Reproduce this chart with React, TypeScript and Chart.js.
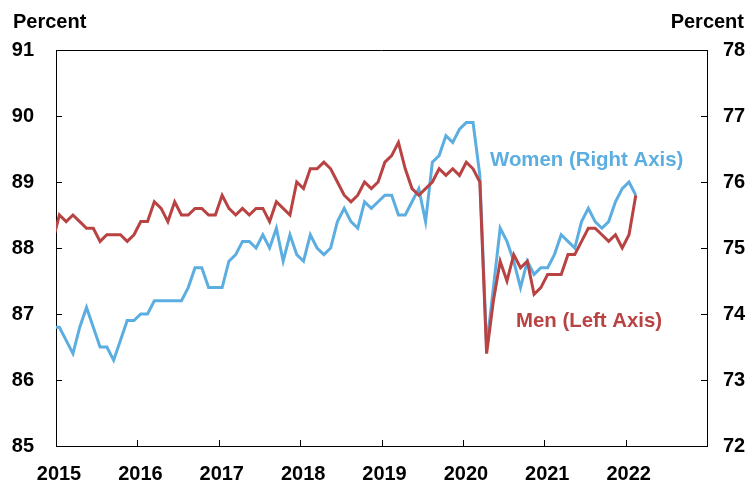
import React, { useEffect, useRef } from "react";
import { Chart, registerables } from "chart.js";

Chart.register(...registerables);

// Monthly observations, first value = December 2014, last = February 2022
const FIRST_MONTH_OFFSET = -1; // Dec 2014 relative to Jan 2015

const menLeftAxis = [
  88.1,
  // 2015
  88.5, 88.4, 88.5, 88.4, 88.3, 88.3, 88.1, 88.2, 88.2, 88.2, 88.1, 88.2,
  // 2016
  88.4, 88.4, 88.7, 88.6, 88.4, 88.7, 88.5, 88.5, 88.6, 88.6, 88.5, 88.5,
  // 2017
  88.8, 88.6, 88.5, 88.6, 88.5, 88.6, 88.6, 88.4, 88.7, 88.6, 88.5, 89.0,
  // 2018
  88.9, 89.2, 89.2, 89.3, 89.2, 89.0, 88.8, 88.7, 88.8, 89.0, 88.9, 89.0,
  // 2019
  89.3, 89.4, 89.6, 89.2, 88.9, 88.8, 88.9, 89.0, 89.2, 89.1, 89.2, 89.1,
  // 2020
  89.3, 89.2, 89.0, 86.4, 87.2, 87.8, 87.5, 87.9, 87.7, 87.8, 87.3, 87.4,
  // 2021
  87.6, 87.6, 87.6, 87.9, 87.9, 88.1, 88.3, 88.3, 88.2, 88.1, 88.2, 88.0,
  // 2022
  88.2, 88.8,
];

const womenRightAxis = [
  73.8,
  // 2015
  73.8, 73.6, 73.4, 73.8, 74.1, 73.8, 73.5, 73.5, 73.3, 73.6, 73.9, 73.9,
  // 2016
  74.0, 74.0, 74.2, 74.2, 74.2, 74.2, 74.2, 74.4, 74.7, 74.7, 74.4, 74.4,
  // 2017
  74.4, 74.8, 74.9, 75.1, 75.1, 75.0, 75.2, 75.0, 75.3, 74.8, 75.2, 74.9,
  // 2018
  74.8, 75.2, 75.0, 74.9, 75.0, 75.4, 75.6, 75.4, 75.3, 75.7, 75.6, 75.7,
  // 2019
  75.8, 75.8, 75.5, 75.5, 75.7, 75.9, 75.4, 76.3, 76.4, 76.7, 76.6, 76.8,
  // 2020
  76.9, 76.9, 76.1, 73.5, 74.4, 75.3, 75.1, 74.8, 74.4, 74.8, 74.6, 74.7,
  // 2021
  74.7, 74.9, 75.2, 75.1, 75.0, 75.4, 75.6, 75.4, 75.3, 75.4, 75.7, 75.9,
  // 2022
  76.0, 75.8,
];

const BASE_YEAR = 2015;
const yearTicks = [2015, 2016, 2017, 2018, 2019, 2020, 2021, 2022];
const X_END_YEAR = 2023;
const leftAxisTicks = [85, 86, 87, 88, 89, 90, 91];
const rightAxisTicks = [72, 73, 74, 75, 76, 77, 78];

const axisTitle = "Percent";
const menLabel = "Men (Left Axis)";
const womenLabel = "Women (Right Axis)";

const RED = "rgb(185,66,66)";
const BLUE = "rgb(92,174,225)";
const FONT_FAMILY = '"Liberation Sans", Arial, Helvetica, sans-serif';

const toPoints = (arr: number[]) =>
  arr.map((v, i) => ({ x: i + FIRST_MONTH_OFFSET + 0.5, y: v }));

const decorPlugin = {
  id: "decor",
  afterDatasetsDraw(chart: any) {
    const { ctx, chartArea, scales } = chart;
    const { left, right, top, bottom } = chartArea;
    ctx.save();
    ctx.strokeStyle = "#000";
    ctx.lineWidth = 1;
    ctx.beginPath();
    ctx.moveTo(left, Math.round(top) + 0.5);
    ctx.lineTo(right, Math.round(top) + 0.5);
    const TL = 6;
    leftAxisTicks.forEach((v) => {
      const y = Math.round(scales.y.getPixelForValue(v)) + 0.5;
      ctx.moveTo(left, y);
      ctx.lineTo(left + TL, y);
    });
    rightAxisTicks.forEach((v) => {
      const y = Math.round(scales.y1.getPixelForValue(v)) + 0.5;
      ctx.moveTo(right, y);
      ctx.lineTo(right - TL, y);
    });
    yearTicks.forEach((yr) => {
      const x = Math.round(scales.x.getPixelForValue((yr - BASE_YEAR) * 12)) + 0.5;
      ctx.moveTo(x, bottom);
      ctx.lineTo(x, bottom - TL);
    });
    ctx.stroke();

    ctx.font = `bold 20px ${FONT_FAMILY}`;
    ctx.textBaseline = "alphabetic";
    ctx.fillStyle = "#000";
    ctx.textAlign = "left";
    ctx.fillText(axisTitle, 13, 28);
    ctx.textAlign = "right";
    ctx.fillText(axisTitle, 744, 28);

    ctx.font = `bold 20.4px ${FONT_FAMILY}`;
    ctx.textAlign = "left";
    ctx.fillStyle = BLUE;
    ctx.fillText(womenLabel, 490, 166);
    ctx.fillStyle = RED;
    ctx.fillText(menLabel, 516, 327);
    ctx.restore();
  },
};

export default function App() {
  const canvasRef = useRef<HTMLCanvasElement | null>(null);

  useEffect(() => {
    const canvas = canvasRef.current;
    if (!canvas) return;
    const tickFont = { family: FONT_FAMILY, size: 20, weight: "bold" as const };
    const chart = new Chart(canvas, {
      type: "line",
      data: {
        datasets: [
          {
            label: "Women",
            data: toPoints(womenRightAxis),
            yAxisID: "y1",
            borderColor: BLUE,
            borderWidth: 3,
            pointRadius: 0,
            tension: 0,
            clip: 0,
            order: 2,
          },
          {
            label: "Men",
            data: toPoints(menLeftAxis),
            yAxisID: "y",
            borderColor: RED,
            borderWidth: 3,
            pointRadius: 0,
            tension: 0,
            clip: 0,
            order: 1,
          },
        ],
      },
      options: {
        responsive: false,
        animation: false,
        devicePixelRatio: 1,
        layout: { padding: { top: 50, left: 0, right: 0, bottom: 0 } },
        plugins: {
          legend: { display: false },
          tooltip: { enabled: false },
        },
        scales: {
          x: {
            type: "linear",
            min: 0,
            max: (X_END_YEAR - BASE_YEAR) * 12,
            grid: { display: false },
            border: { display: true, color: "#000", width: 1 },
            afterBuildTicks: (scale: any) => {
              scale.ticks = yearTicks.map((yr) => ({ value: (yr - BASE_YEAR) * 12 }));
            },
            ticks: {
              autoSkip: false,
              maxRotation: 0,
              color: "#000",
              font: tickFont,
              padding: 8,
              labelOffset: 3,
              callback: (v: any) => String(BASE_YEAR + Number(v) / 12),
            },
            afterFit: (scale: any) => {
              scale.height = 37;
            },
          },
          y: {
            position: "left",
            min: 85,
            max: 91,
            grid: { display: false },
            border: { display: true, color: "#000", width: 1 },
            afterBuildTicks: (scale: any) => {
              scale.ticks = leftAxisTicks.map((v) => ({ value: v }));
            },
            ticks: { color: "#000", font: tickFont, padding: 14 },
            afterFit: (scale: any) => {
              scale.width = 56;
            },
          },
          y1: {
            position: "right",
            min: 72,
            max: 78,
            grid: { display: false },
            border: { display: true, color: "#000", width: 1 },
            afterBuildTicks: (scale: any) => {
              scale.ticks = rightAxisTicks.map((v) => ({ value: v }));
            },
            ticks: { color: "#000", font: tickFont, padding: 8 },
            afterFit: (scale: any) => {
              scale.width = 45;
            },
          },
        },
      },
      plugins: [decorPlugin],
    });
    return () => chart.destroy();
  }, []);

  return (
    <div style={{ position: "absolute", left: 0, top: 0, width: 752, height: 483, background: "#fff" }}>
      <canvas ref={canvasRef} width={752} height={483} style={{ display: "block" }} />
    </div>
  );
}
